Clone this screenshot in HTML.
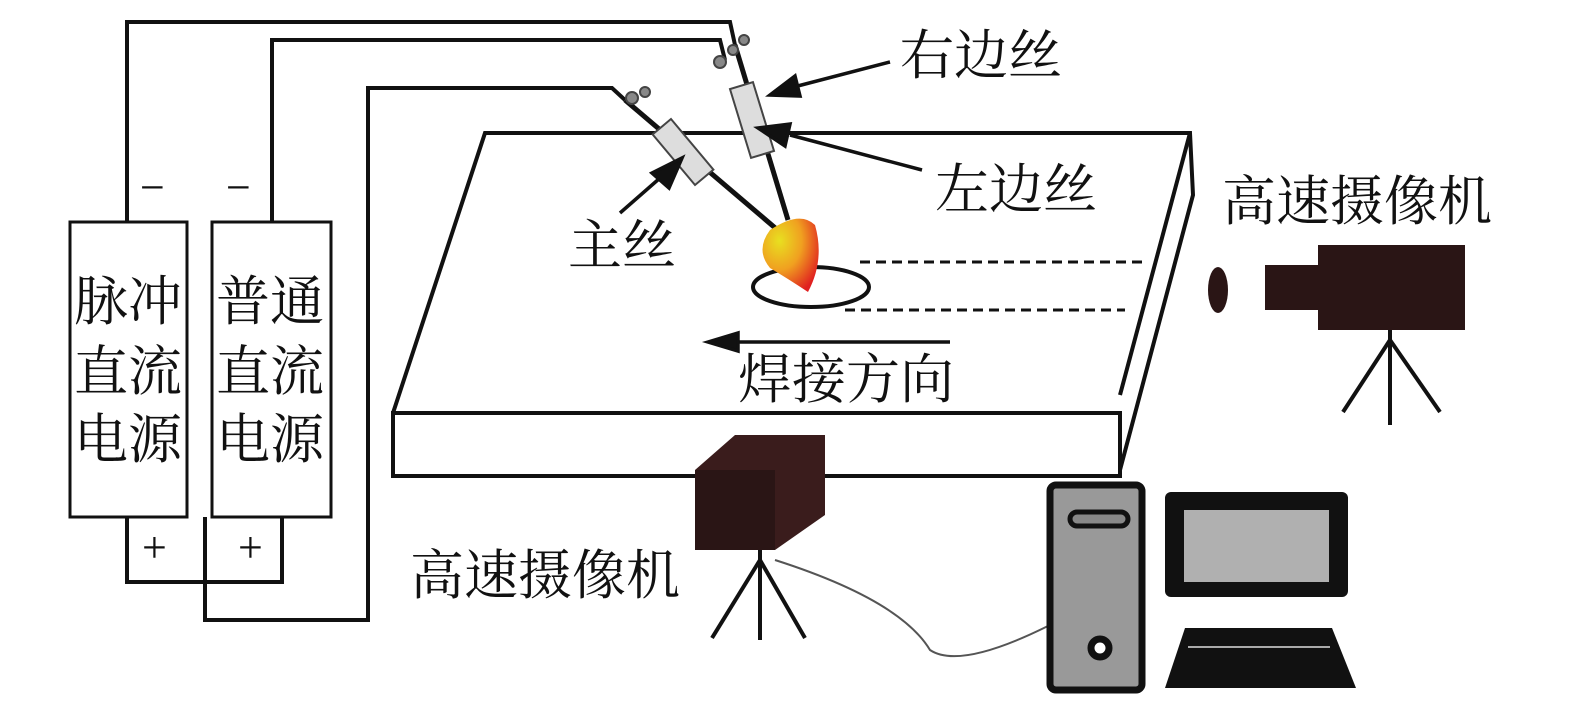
<!DOCTYPE html>
<html><head><meta charset="utf-8"><style>
html,body{margin:0;padding:0;background:#fff;}
svg{display:block;}
text{font-family:"Liberation Serif","Noto Serif CJK SC","Noto Sans CJK SC",serif;fill:#111;}
</style></head><body>
<svg width="1575" height="707" viewBox="0 0 1575 707" xmlns="http://www.w3.org/2000/svg">
<defs>
<radialGradient id="fl" cx="0.3" cy="0.3" r="0.8">
<stop offset="0" stop-color="#e8e020"/><stop offset="0.5" stop-color="#f0a020"/><stop offset="1" stop-color="#e02020"/>
</radialGradient>
</defs>
<g fill="none" stroke="#111" stroke-width="4">
<polyline points="393,413 485,133 1190,133 1193,195 1120,470"/>
<line x1="1190" y1="133" x2="1120" y2="395"/>
<rect x="393" y="413" width="727" height="63"/>
<polyline points="127,222 127,22 730,22 735,45"/>
<polyline points="272,222 272,40 720,40 725,60"/>
<polyline points="127,517 127,582 282,582 282,517"/>
<polyline points="205,517 205,620 368,620 368,88 612,88 625,100"/>
<rect x="70" y="222" width="117" height="295" stroke-width="3"/>
<rect x="212" y="222" width="119" height="295" stroke-width="3"/>
<ellipse cx="811" cy="287" rx="58" ry="20"/>
<line x1="860" y1="262" x2="1145" y2="262" stroke-dasharray="10,6" stroke-width="3"/>
<line x1="845" y1="310" x2="1125" y2="310" stroke-dasharray="10,6" stroke-width="3"/>
<line x1="625" y1="100" x2="780" y2="232" stroke-width="5"/>
<line x1="735" y1="45" x2="788" y2="220" stroke-width="5"/>
</g>
<g stroke="#444" stroke-width="2" fill="#ddd">
<rect x="-12" y="-33" width="24" height="66" transform="translate(683,152) rotate(-40)"/>
<rect x="-12" y="-36" width="24" height="72" transform="translate(752,120) rotate(-17)"/>
<circle cx="632" cy="98" r="6" fill="#888"/><circle cx="645" cy="92" r="5" fill="#888"/>
<circle cx="720" cy="62" r="6" fill="#888"/><circle cx="744" cy="40" r="5" fill="#888"/><circle cx="733" cy="50" r="5" fill="#888"/>
</g>
<path d="M770,230 Q800,210 815,225 Q825,260 808,292 Q790,280 770,268 Q755,250 770,230Z" fill="url(#fl)"/>
<g stroke="#111" stroke-width="3.5" fill="#111">
<line x1="890" y1="62" x2="790" y2="88"/><polygon points="770,95 795,76 800,96"/>
<line x1="922" y1="170" x2="790" y2="135"/><polygon points="758,128 790,124 785,146"/>
<line x1="620" y1="213" x2="660" y2="178"/><polygon points="682,158 669,188 652,173"/>
<line x1="950" y1="342" x2="735" y2="342"/><polygon points="708,342 738,333 738,351"/>
</g>
<ellipse cx="1218" cy="290" rx="10" ry="23" fill="#2a1515"/>
<rect x="1265" y="265" width="60" height="45" fill="#2a1515"/>
<rect x="1318" y="245" width="147" height="85" fill="#2a1515"/>
<g stroke="#111" stroke-width="4"><line x1="1390" y1="330" x2="1390" y2="425"/><line x1="1390" y1="340" x2="1343" y2="412"/><line x1="1390" y1="340" x2="1440" y2="412"/></g>
<rect x="695" y="470" width="80" height="80" fill="#2a1515"/>
<polygon points="695,470 735,435 825,435 825,515 775,550 775,470" fill="#3a1c1c"/>
<g stroke="#111" stroke-width="4"><line x1="760" y1="550" x2="760" y2="640"/><line x1="760" y1="560" x2="712" y2="638"/><line x1="760" y1="560" x2="805" y2="638"/></g>
<path d="M775,560 Q900,600 930,650 Q960,670 1050,625" fill="none" stroke="#555" stroke-width="2"/>
<rect x="1050" y="485" width="92" height="205" rx="6" fill="#999" stroke="#111" stroke-width="7"/>
<rect x="1070" y="512" width="58" height="14" rx="7" fill="#888" stroke="#111" stroke-width="5"/>
<circle cx="1100" cy="648" r="9" fill="#fff" stroke="#111" stroke-width="7"/>
<rect x="1165" y="492" width="183" height="105" rx="6" fill="#111"/>
<rect x="1184" y="510" width="145" height="72" fill="#b0b0b0"/>
<polygon points="1185,628 1332,628 1356,688 1165,688" fill="#111"/>
<line x1="1188" y1="647" x2="1330" y2="647" stroke="#aaa" stroke-width="2"/>
<g font-size="54">
<text x="74" y="320">脉冲</text><text x="74" y="390">直流</text><text x="74" y="458">电源</text>
<text x="216" y="320">普通</text><text x="216" y="390">直流</text><text x="216" y="458">电源</text>
<text x="900" y="74">右边丝</text>
<text x="935" y="208">左边丝</text>
<text x="568" y="264">主丝</text>
<text x="738" y="398">焊接方向</text>
<text x="1222" y="220">高速摄像机</text>
<text x="410" y="594">高速摄像机</text>
<text x="140" y="202" font-size="44">−</text><text x="226" y="202" font-size="44">−</text>
<text x="142" y="562" font-size="44">+</text><text x="238" y="562" font-size="44">+</text>
</g>
</svg>
</body></html>
